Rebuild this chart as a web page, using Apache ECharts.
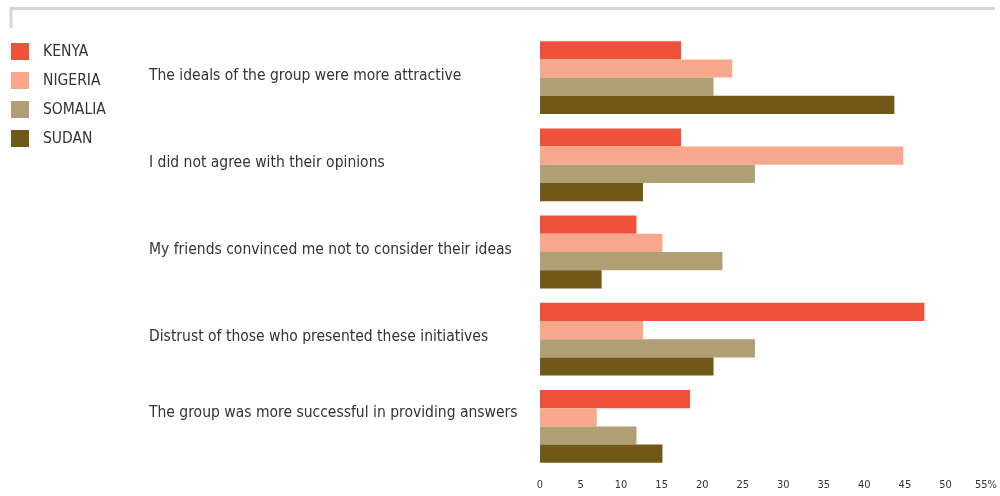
<!DOCTYPE html>
<html><head><meta charset="utf-8">
<script src="https://cdn.jsdelivr.net/npm/echarts@6/dist/echarts.min.js"></script>
<style>html,body{margin:0;padding:0;background:#fff}#c{width:1000px;height:496px}</style>
</head><body><div id="c"></div>
<script>
const categories = [
  'The ideals of the group were more attractive',
  'I did not agree with their opinions',
  'My friends convinced me not to consider their ideas',
  'Distrust of those who presented these initiatives',
  'The group was more successful in providing answers'
];
const seriesNames = ['KENYA', 'NIGERIA', 'SOMALIA', 'SUDAN'];
const kenya   = [17.4, 17.4, 11.9, 47.4, 18.5];
const nigeria = [23.7, 44.8, 15.1, 12.7, 7.0];
const somalia = [21.4, 26.5, 22.5, 26.5, 11.9];
const sudan   = [43.7, 12.7, 7.6, 21.4, 15.1];
const xTicks = [0, 5, 10, 15, 20, 25, 30, 35, 40, 45, 50, 55];
const colors = ['#EE523A', '#F6A78C', '#B09F74', '#705819'];
const FONT = '"DejaVu Sans Condensed", "Liberation Sans Narrow", sans-serif';

const chart = echarts.init(document.getElementById('c'), null, {renderer: 'canvas'});
const values = [kenya, nigeria, somalia, sudan];
chart.setOption({
  animation: false,
  color: colors,
  textStyle: {fontFamily: FONT},
  graphic: [
    {type: 'polyline', shape: {points: [[11, 28], [11, 8.5], [995, 8.5]]},
     style: {stroke: '#d6d6d6', lineWidth: 3, fill: null}}
  ],
  legend: {
    orient: 'vertical', left: 11, top: 43, padding: 0,
    itemWidth: 18, itemHeight: 17, itemGap: 12,
    icon: 'rect',
    textStyle: {fontFamily: FONT, fontSize: 15.5, color: '#333', padding: [0, 0, 0, 9]},
    data: seriesNames
  },
  grid: {left: 540, right: 12, top: 34, bottom: 26, containLabel: false},
  xAxis: {
    type: 'value', min: 0, max: 55, interval: 5,
    splitLine: {show: false}, axisLine: {show: false}, axisTick: {show: false},
    axisLabel: {fontFamily: FONT, fontSize: 11, color: '#333', margin: 10,
      formatter: v => v === 55 ? '55%' : String(v)}
  },
  yAxis: {
    type: 'category', data: categories, inverse: true,
    axisLine: {show: false}, axisTick: {show: false},
    axisLabel: {color: '#333', align: 'left', margin: 391,
      formatter: (v, i) => i === 4 ? '{b|' + v + '}' : '{a|' + v + '}',
      rich: {
        a: {fontFamily: FONT, fontSize: 15.5, color: '#333', padding: [0, 0, 4, 0]},
        b: {fontFamily: FONT, fontSize: 15.5, color: '#333', padding: [0, 0, 26, 0]}
      }}
  },
  series: seriesNames.map((n, i) => ({
    name: n, type: 'bar', data: values[i], barWidth: 18.2, barGap: '0%',
    itemStyle: {color: colors[i]}
  }))
});
</script></body></html>
